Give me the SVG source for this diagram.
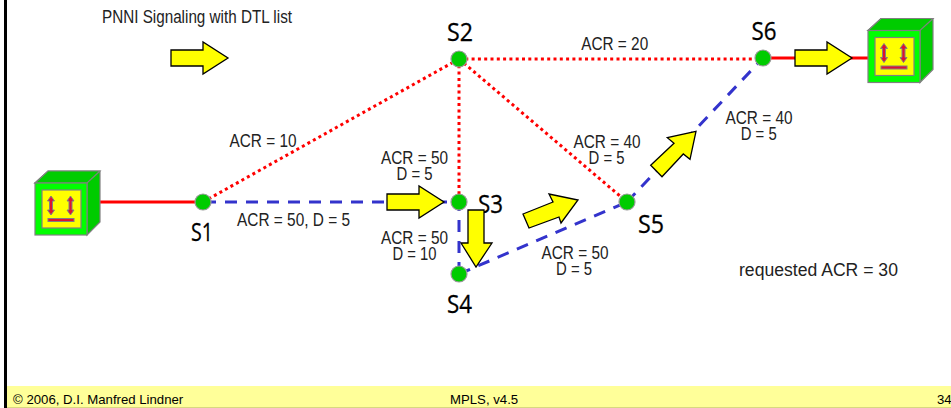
<svg xmlns="http://www.w3.org/2000/svg" width="951" height="408" viewBox="0 0 951 408">
<style>
text{font-family:"Liberation Sans",Arial,sans-serif;fill:#222}
.l{font-size:17.5px;text-anchor:middle}
.n{font-family:"Open Sans","Noto Sans",sans-serif;font-size:26px;text-anchor:middle;fill:#000;stroke:#000;stroke-width:.3}
.f{font-size:13.2px;fill:#000}
.arrow{fill:#ff0;stroke:#000;stroke-width:1.3}
.solid{stroke:#f00;stroke-width:3;fill:none}
.dot{stroke:#f00;stroke-width:3;stroke-dasharray:3 3.300;fill:none}
.dash{stroke:#3333cc;stroke-width:3;stroke-dasharray:12 9;fill:none}
.node{fill:#00cc00;stroke:#999;stroke-width:1.2}
.b{stroke:#808080;stroke-width:1.2}
.s{fill:#dd1133;stroke:#808080;stroke-width:1}
</style>
<defs>
<g id="host">
<path class="b" fill="#00cc00" d="M0 12L13 0H65V51L52 64V12Z"/>
<path class="b" fill="#00cc00" d="M0 12L13 0H65L52 12Z"/>
<rect class="b" fill="#00ff00" x="0" y="12" width="52" height="52"/>
<rect class="b" fill="#ffff00" x="7" y="19" width="39" height="38"/>
<path class="s" d="M16 25l3.500 5h-2v9h2l-3.500 5l-3.500-5h2v-9h-2z"/>
<path class="s" d="M35.500 25l3.500 5h-2v9h2l-3.500 5l-3.500-5h2v-9h-2z"/>
<rect class="s" x="13" y="47.500" width="26" height="3"/>
</g>
<path id="ar" class="arrow" d="M0 8H32V0L57 16L32 32V24H0Z"/>
</defs>
<rect x="5" y="0" width="946" height="408" fill="#fff"/>
<rect x="5" y="386" width="946" height="22" fill="#ffff99"/>
<rect x="5" y="407" width="946" height="1" fill="#d8d880"/>
<rect x="4" y="0" width="3" height="408" fill="#000"/>
<g id="connectors">
<path class="solid" d="M100 202H203M763 58H868"/>
<path class="dot" d="M203 202L459 59M459 59H763M459 59V202M459 59L627 202"/>
<path class="dash" d="M204 202H459M459 199V274M459 274L627 202M627 202L763 58"/>
</g>
<g id="h1"><use href="#host" x="35" y="171"/></g>
<g id="h2"><use href="#host" x="868" y="18.500"/></g>
<g id="S1"><circle class="node" cx="203" cy="202" r="8"/><text class="n" x="202" y="241" textLength="22" lengthAdjust="spacingAndGlyphs">S1</text></g>
<g id="S2"><circle class="node" cx="459" cy="59" r="8"/><text class="n" x="460" y="41" textLength="26" lengthAdjust="spacingAndGlyphs">S2</text></g>
<g id="S3"><circle class="node" cx="459" cy="202" r="8"/><text class="n" x="490.500" y="213" textLength="25" lengthAdjust="spacingAndGlyphs">S3</text></g>
<g id="S4"><circle class="node" cx="459" cy="274" r="8"/><text class="n" x="459.500" y="313" textLength="25" lengthAdjust="spacingAndGlyphs">S4</text></g>
<g id="S5"><circle class="node" cx="627" cy="202" r="8"/><text class="n" x="651" y="233" textLength="26" lengthAdjust="spacingAndGlyphs">S5</text></g>
<g id="S6"><circle class="node" cx="763" cy="58" r="8"/><text class="n" x="764" y="40" textLength="25" lengthAdjust="spacingAndGlyphs">S6</text></g>
<g id="arrows">
<use href="#ar" x="171" y="42"/>
<use href="#ar" x="795" y="42"/>
<use href="#ar" x="387" y="186"/>
<path class="arrow" d="M468 210H484V243H492L476 267L461 243H468Z"/>
<path class="arrow" d="M523 214L553 202L549 194L578 200L561 223L559 217L529 228Z"/>
<path class="arrow" d="M650.700 165.300L674 143.300L667.300 137.700L696 131.300L690 159.300L683.300 154L662 176.700Z"/>
</g>
<g id="labels">
<text x="102" y="23" style="font-size:17.500px" textLength="190" lengthAdjust="spacingAndGlyphs">PNNI Signaling with DTL list</text>
<text class="l" x="263" y="147" textLength="67" lengthAdjust="spacingAndGlyphs">ACR = 10</text>
<text class="l" x="414.500" y="164" textLength="67" lengthAdjust="spacingAndGlyphs">ACR = 50</text><text class="l" x="414.500" y="180" textLength="36" lengthAdjust="spacingAndGlyphs">D = 5</text>
<text class="l" x="293.500" y="226" textLength="113" lengthAdjust="spacingAndGlyphs">ACR = 50, D = 5</text>
<text class="l" x="414.500" y="244" textLength="67" lengthAdjust="spacingAndGlyphs">ACR = 50</text><text class="l" x="414.500" y="260" textLength="44" lengthAdjust="spacingAndGlyphs">D = 10</text>
<text class="l" x="575" y="259" textLength="67" lengthAdjust="spacingAndGlyphs">ACR = 50</text><text class="l" x="574" y="275" textLength="36" lengthAdjust="spacingAndGlyphs">D = 5</text>
<text class="l" x="607" y="148" textLength="67" lengthAdjust="spacingAndGlyphs">ACR = 40</text><text class="l" x="606.500" y="164" textLength="36" lengthAdjust="spacingAndGlyphs">D = 5</text>
<text class="l" x="759" y="124" textLength="67" lengthAdjust="spacingAndGlyphs">ACR = 40</text><text class="l" x="758.700" y="140" textLength="36" lengthAdjust="spacingAndGlyphs">D = 5</text>
<text class="l" x="614.700" y="50" textLength="67" lengthAdjust="spacingAndGlyphs">ACR = 20</text>
<text x="739" y="276" style="font-size:17.600px">requested ACR = 30</text>
</g>
<g id="footer">
<text class="f" x="13" y="404">© 2006, D.I. Manfred Lindner</text>
<text class="f" x="450" y="404">MPLS, v4.5</text>
<text class="f" x="937" y="404">34</text>
</g>
</svg>
